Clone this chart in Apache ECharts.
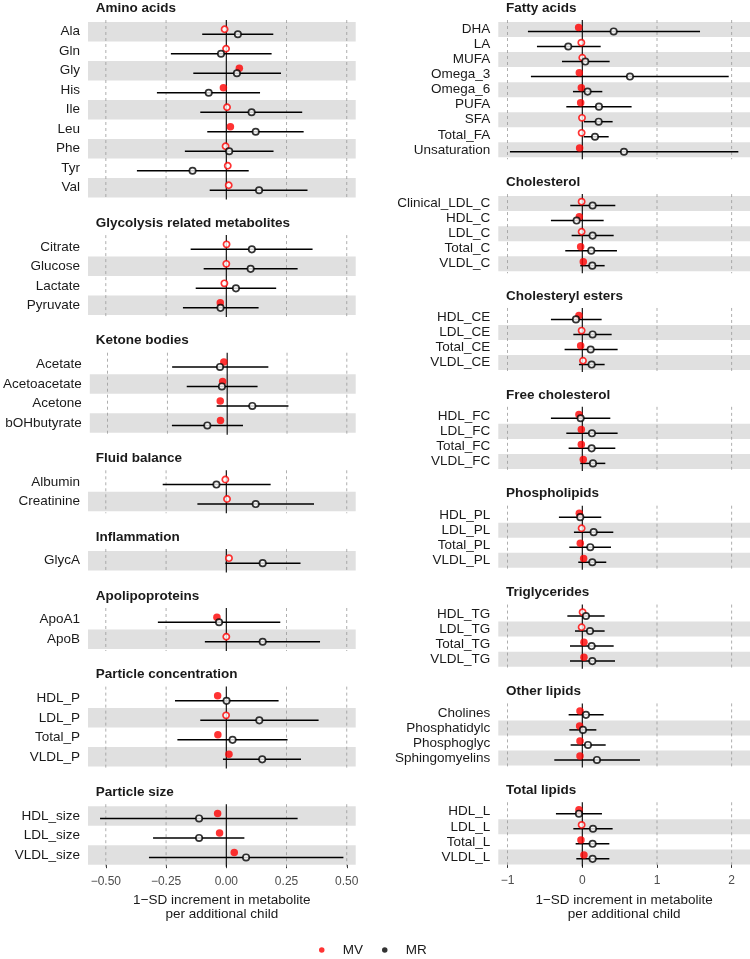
<!DOCTYPE html>
<html><head><meta charset="utf-8">
<script src="https://cdn.jsdelivr.net/npm/echarts@6/dist/echarts.min.js"></script>
<style>html,body{margin:0;padding:0;background:#fff}#c{width:750px;height:959px}</style>
</head><body><div id="c"></div>
<script>
// rows: [label, MV estimate, MV filled (1) / open (0), MR estimate, MR lower CI, MR upper CI]
const aminoAcids = [
  ['Ala', -0.007, 0, 0.048, -0.100, 0.195],
  ['Gln', -0.001, 0, -0.022, -0.230, 0.188],
  ['Gly', 0.054, 1, 0.044, -0.137, 0.227],
  ['His', -0.012, 1, -0.073, -0.288, 0.140],
  ['Ile', 0.003, 0, 0.105, -0.108, 0.315],
  ['Leu', 0.017, 1, 0.122, -0.079, 0.321],
  ['Phe', -0.003, 0, 0.012, -0.172, 0.196],
  ['Tyr', 0.006, 0, -0.140, -0.371, 0.093],
  ['Val', 0.010, 0, 0.136, -0.069, 0.337]
];
const glycolysis = [
  ['Citrate', 0.001, 0, 0.106, -0.148, 0.358],
  ['Glucose', 0.000, 0, 0.101, -0.094, 0.296],
  ['Lactate', -0.008, 0, 0.040, -0.127, 0.207],
  ['Pyruvate', -0.025, 1, -0.024, -0.180, 0.134]
];
const ketoneBodies = [
  ['Acetate', -0.014, 1, -0.030, -0.230, 0.172],
  ['Acetoacetate', -0.019, 1, -0.022, -0.169, 0.127],
  ['Acetone', -0.029, 1, 0.105, -0.044, 0.256],
  ['bOHbutyrate', -0.028, 1, -0.083, -0.231, 0.066]
];
const fluidBalance = [
  ['Albumin', -0.004, 0, -0.041, -0.264, 0.184],
  ['Creatinine', 0.003, 0, 0.122, -0.120, 0.364]
];
const inflammation = [
  ['GlycA', 0.011, 0, 0.151, -0.004, 0.308]
];
const apolipoproteins = [
  ['ApoA1', -0.039, 1, -0.030, -0.284, 0.224],
  ['ApoB', 0.000, 0, 0.151, -0.089, 0.389]
];
const particleConc = [
  ['HDL_P', -0.036, 1, 0.001, -0.213, 0.217],
  ['LDL_P', -0.001, 0, 0.137, -0.108, 0.383],
  ['Total_P', -0.035, 1, 0.026, -0.203, 0.254],
  ['VLDL_P', 0.011, 1, 0.149, -0.014, 0.310]
];
const particleSize = [
  ['HDL_size', -0.036, 1, -0.113, -0.524, 0.296],
  ['LDL_size', -0.028, 1, -0.113, -0.304, 0.075],
  ['VLDL_size', 0.033, 1, 0.082, -0.321, 0.486]
];
const fattyAcids = [
  ['DHA', -0.049, 1, 0.420, -0.728, 1.576],
  ['LA', -0.013, 0, -0.188, -0.607, 0.246],
  ['MUFA', 0.000, 0, 0.040, -0.272, 0.366],
  ['Omega_3', -0.040, 1, 0.638, -0.688, 1.960],
  ['Omega_6', -0.013, 1, 0.071, -0.125, 0.268],
  ['PUFA', -0.022, 1, 0.223, -0.214, 0.660],
  ['SFA', -0.004, 0, 0.219, 0.022, 0.406],
  ['Total_FA', -0.009, 0, 0.170, 0.018, 0.353],
  ['Unsaturation', -0.036, 1, 0.558, -0.969, 2.089]
];
const cholesterol = [
  ['Clinical_LDL_C', -0.009, 0, 0.138, -0.161, 0.442],
  ['HDL_C', -0.040, 1, -0.076, -0.420, 0.286],
  ['LDL_C', -0.009, 0, 0.138, -0.143, 0.420],
  ['Total_C', -0.022, 1, 0.120, -0.228, 0.464],
  ['VLDL_C', 0.013, 1, 0.134, -0.027, 0.299]
];
const cholesterylEsters = [
  ['HDL_CE', -0.045, 1, -0.085, -0.420, 0.259],
  ['LDL_CE', -0.009, 0, 0.138, -0.120, 0.393],
  ['Total_CE', -0.022, 1, 0.112, -0.237, 0.473],
  ['VLDL_CE', 0.009, 0, 0.125, -0.045, 0.299]
];
const freeCholesterol = [
  ['HDL_FC', -0.045, 1, -0.022, -0.420, 0.375],
  ['LDL_FC', -0.013, 1, 0.129, -0.214, 0.473],
  ['Total_FC', -0.013, 1, 0.125, -0.183, 0.442],
  ['VLDL_FC', 0.013, 1, 0.143, -0.027, 0.308]
];
const phospholipids = [
  ['HDL_PL', -0.040, 1, -0.027, -0.313, 0.254],
  ['LDL_PL', -0.009, 0, 0.152, -0.112, 0.415],
  ['Total_PL', -0.027, 1, 0.107, -0.174, 0.384],
  ['VLDL_PL', 0.018, 1, 0.134, -0.054, 0.321]
];
const triglycerides = [
  ['HDL_TG', 0.004, 0, 0.049, -0.200, 0.299],
  ['LDL_TG', -0.009, 0, 0.103, -0.098, 0.299],
  ['Total_TG', 0.022, 1, 0.125, -0.165, 0.420],
  ['VLDL_TG', 0.022, 1, 0.134, -0.165, 0.438]
];
const otherLipids = [
  ['Cholines', -0.031, 1, 0.049, -0.183, 0.286],
  ['Phosphatidylc', -0.036, 1, 0.009, -0.174, 0.188],
  ['Phosphoglyc', -0.031, 1, 0.076, -0.156, 0.313],
  ['Sphingomyelins', -0.031, 1, 0.196, -0.375, 0.772]
];
const totalLipids = [
  ['HDL_L', -0.045, 1, -0.045, -0.353, 0.263],
  ['LDL_L', -0.009, 0, 0.143, -0.120, 0.406],
  ['Total_L', -0.018, 1, 0.138, -0.089, 0.362],
  ['VLDL_L', 0.022, 1, 0.138, -0.080, 0.362]
];
const leftTicks = [-0.5, -0.25, 0, 0.25, 0.5];
const rightTicks = [-1, 0, 1, 2];
const axisTitle = '1\u2212SD increment in metabolite\nper additional child';

const columns = [
  { panels: [['Amino acids', aminoAcids], ['Glycolysis related metabolites', glycolysis], ['Ketone bodies', ketoneBodies],
      ['Fluid balance', fluidBalance], ['Inflammation', inflammation], ['Apolipoproteins', apolipoproteins],
      ['Particle concentration', particleConc], ['Particle size', particleSize]],
    left: 88, width: 267.7, min: -0.574, max: 0.537, rowH: 19.5, gap: 39.6, ticks: leftTicks,
    fmt: v => (v < 0 ? '\u2212' : '') + Math.abs(v).toFixed(2) },
  { panels: [['Fatty acids', fattyAcids], ['Cholesterol', cholesterol], ['Cholesteryl esters', cholesterylEsters],
      ['Free cholesterol', freeCholesterol], ['Phospholipids', phospholipids], ['Triglycerides', triglycerides],
      ['Other lipids', otherLipids], ['Total lipids', totalLipids]],
    left: 498.3, width: 251.7, min: -1.1245, max: 2.245, rowH: 15.04, gap: 38.7, ticks: rightTicks,
    fmt: v => (v < 0 ? '\u2212' : '') + Math.abs(v) }
];

const FONT = '"Liberation Sans", Arial, sans-serif';
const grids = [], xAxes = [], yAxes = [], series = [], titles = [];

columns.forEach(col => {
  let top = 22;
  const dodge = col.rowH * 0.128;
  col.panels.forEach((p, k) => {
    const rows = p[1];
    const n = rows.length;
    const gi = grids.length;
    const isLast = k === col.panels.length - 1;
    grids.push({ left: col.left, top: top, width: col.width, height: n * col.rowH });
    titles.push({ text: p[0], left: col.left + 7.7, top: top - 15 - 7, padding: 0,
      textStyle: { fontFamily: FONT, fontSize: 13.5, fontWeight: 'bold', color: '#1a1a1a', lineHeight: 16 } });
    const xa = { gridIndex: gi, type: 'value', min: col.min, max: col.max, splitLine: { show: false } };
    if (isLast) {
      Object.assign(xa, {
        axisLine: { show: false },
        axisTick: { show: true, length: 3.5, customValues: col.ticks, lineStyle: { color: '#333', width: 1 } },
        axisLabel: { show: true, customValues: col.ticks, formatter: col.fmt, margin: 10.5,
          fontFamily: FONT, fontSize: 12, color: '#4d4d4d' },
        name: axisTitle, nameLocation: 'middle', nameGap: 29,
        nameTextStyle: { fontFamily: FONT, fontSize: 13.5, color: '#1a1a1a', lineHeight: 14, align: 'center' }
      });
    } else {
      xa.show = false;
    }
    xAxes.push(xa);
    yAxes.push({ gridIndex: gi, type: 'category', inverse: true, data: rows.map(r => r[0]),
      axisLine: { show: false }, axisTick: { show: false }, splitLine: { show: false },
      axisLabel: { interval: 0, fontFamily: FONT, fontSize: 13.5, color: '#1a1a1a', margin: 8 } });

    // background bands (bottom row shaded, alternating upward)
    series.push({ type: 'custom', xAxisIndex: gi, yAxisIndex: gi, z: 1, silent: true,
      data: rows.map((r, i) => [0, i]).filter(d => (n - 1 - d[1]) % 2 === 0),
      renderItem: (params, api) => {
        const c = api.coord([0, api.value(1)]);
        const h = api.size([0, 1])[1];
        const cs = params.coordSys;
        return { type: 'rect', shape: { x: cs.x, y: c[1] - h / 2, width: cs.width, height: h },
          style: { fill: '#e0e0e0' } };
      } });
    // vertical reference lines
    series.push({ type: 'custom', xAxisIndex: gi, yAxisIndex: gi, z: 2, silent: true,
      data: col.ticks.map(t => [t, 0]),
      renderItem: (params, api) => {
        const v = api.value(0);
        const c = api.coord([v, 0]);
        const cs = params.coordSys;
        const zero = Math.abs(v) < 1e-9;
        return { type: 'line', shape: { x1: c[0], y1: cs.y - 2, x2: c[0], y2: cs.y + cs.height + 2 },
          style: zero ? { stroke: '#000', lineWidth: 1.1 } : { stroke: '#9a9a9a', lineWidth: 0.8, lineDash: [3, 3] } };
      } });
    // MR confidence intervals
    series.push({ type: 'custom', xAxisIndex: gi, yAxisIndex: gi, z: 3, silent: true,
      data: rows.map((r, i) => [r[4], r[5], i]),
      renderItem: (params, api) => {
        const a = api.coord([api.value(0), api.value(2)]);
        const b = api.coord([api.value(1), api.value(2)]);
        return { type: 'line', shape: { x1: a[0], y1: a[1] + dodge, x2: b[0], y2: b[1] + dodge },
          style: { stroke: '#000', lineWidth: 1.5 } };
      } });
    // MV filled
    series.push({ name: 'MV', type: 'scatter', xAxisIndex: gi, yAxisIndex: gi, z: 4, silent: true,
      symbol: 'circle', symbolSize: 7.5, symbolOffset: [0, -dodge],
      itemStyle: { color: '#ff0000', borderWidth: 0 },
      data: rows.map((r, i) => [r[1], i, r[2]]).filter(d => d[2] === 1).map(d => [d[0], d[1]]) });
    // MV open
    series.push({ name: 'MV', type: 'scatter', xAxisIndex: gi, yAxisIndex: gi, z: 4, silent: true,
      symbol: 'circle', symbolSize: 6.2, symbolOffset: [0, -dodge],
      itemStyle: { color: '#ffffff', borderColor: '#ff0000', borderWidth: 1.7 },
      data: rows.map((r, i) => [r[1], i, r[2]]).filter(d => d[2] === 0).map(d => [d[0], d[1]]) });
    // MR
    series.push({ name: 'MR', type: 'scatter', xAxisIndex: gi, yAxisIndex: gi, z: 5, silent: true,
      symbol: 'circle', symbolSize: 6.4, symbolOffset: [0, dodge],
      itemStyle: { color: '#ffffff', borderColor: '#000000', borderWidth: 1.7 },
      data: rows.map((r, i) => [r[3], i]) });

    top += n * col.rowH + col.gap;
  });
});

const chart = echarts.init(document.getElementById('c'), null, { renderer: 'canvas' });
chart.setOption({
  animation: false,
  backgroundColor: '#ffffff',
  title: titles,
  grid: grids,
  xAxis: xAxes,
  yAxis: yAxes,
  legend: {
    left: 319, top: 943, padding: 0, itemWidth: 32, itemHeight: 5.5, itemGap: 19,
    selectedMode: false, icon: 'circle',
    textStyle: { fontFamily: FONT, fontSize: 13.5, color: '#1a1a1a' },
    data: [
      { name: 'MV', itemStyle: { color: '#ff0000', borderWidth: 0 } },
      { name: 'MR', itemStyle: { color: '#000000', borderWidth: 0 } }
    ]
  },
  series: series
});
</script></body></html>
